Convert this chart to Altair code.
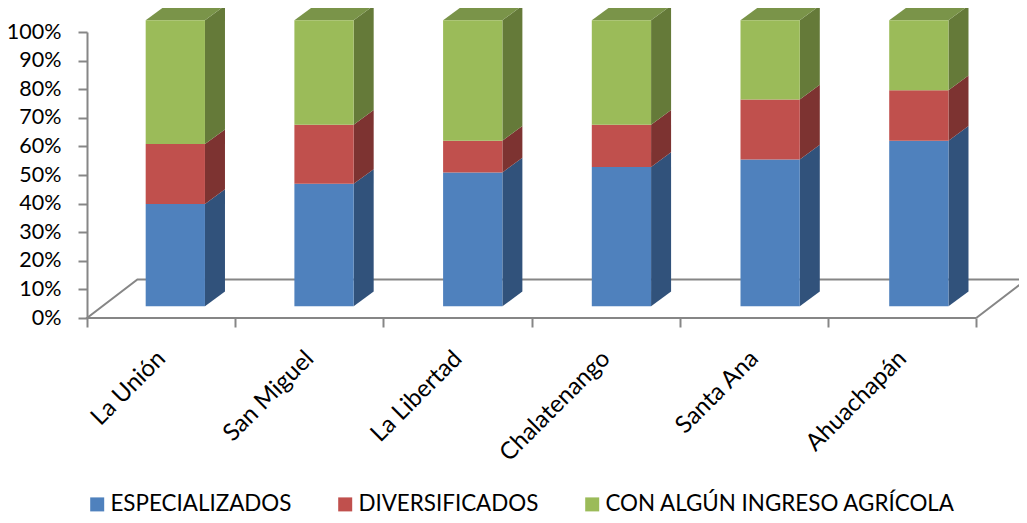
import altair as alt
import pandas as pd

departamentos = ["La Unión", "San Miguel", "La Libertad", "Chalatenango", "Santa Ana", "Ahuachapán"]
especializados = [35.8, 42.8, 46.8, 48.7, 51.3, 57.9]
diversificados = [20.9, 20.7, 11.1, 14.8, 21.0, 17.6]
con_ingreso = [43.3, 36.5, 42.1, 36.5, 27.7, 24.5]
series = ["ESPECIALIZADOS", "DIVERSIFICADOS", "CON ALGÚN INGRESO AGRÍCOLA"]
front_colors = ["#4F81BD", "#C0504D", "#9BBB59"]
side_colors = ["#31527B", "#7D3331", "#657A39"]
top_colors = ["#7A9449"]
y_ticks = list(range(0, 101, 10))

# 3-D projection of the chart, in data units
BAR_LEFT, BAR_STEP, BAR_W, DEPTH_X, DEPTH_Y, LIFT = 0.396, 1.0034, 0.40, 0.135, 5.15, 4.1
FLOOR_X, FLOOR_Y = 0.34, 13.5
n = len(departamentos)

front, side, top = [], [], []
for i in range(n):
    base = LIFT
    x0, x1 = i * BAR_STEP + BAR_LEFT, i * BAR_STEP + BAR_LEFT + BAR_W
    for name, vals, in zip(series, [especializados, diversificados, con_ingreso]):
        lo, hi = base, base + vals[i]
        base = hi
        front.append(dict(x=x0, x2=x1, y=lo, y2=hi, s=name))
        side.append(dict(k=f"{i}{name}", s=name + " lado", x=x1, y=lo, y2=hi))
        side.append(dict(k=f"{i}{name}", s=name + " lado", x=x1 + DEPTH_X, y=lo + DEPTH_Y, y2=hi + DEPTH_Y))
    t = base
    for px, a, b in [(x0, t, t), (x0 + DEPTH_X, t, t + DEPTH_Y), (x1, t, t + DEPTH_Y), (x1 + DEPTH_X, t + DEPTH_Y, t + DEPTH_Y)]:
        top.append(dict(k=str(i), s="techo", x=px, y=a, y2=b))

floor = pd.DataFrame(
    [dict(o=0, x=n, y=0), dict(o=1, x=0, y=0), dict(o=2, x=FLOOR_X, y=FLOOR_Y),
     dict(o=3, x=n + FLOOR_X, y=FLOOR_Y), dict(o=4, x=n, y=0)]
)
labels = pd.DataFrame(dict(x=[i + 0.505 for i in range(n)], y=[-13.0] * n, t=departamentos))

xs = alt.Scale(domain=[0, 932 / 148.2], nice=False, zero=False)
ys = alt.Scale(domain=[0, 100], nice=False)
cs = alt.Scale(
    domain=series + [s + " lado" for s in series] + ["techo"],
    range=front_colors + side_colors + top_colors,
)
X = alt.X("x:Q", scale=xs, title=None,
          axis=alt.Axis(values=list(range(n + 1)), labels=False, domain=False, grid=False,
                        tickColor="#868686", tickWidth=2, tickSize=9))
Y = alt.Y("y:Q", scale=ys, title=None, stack=None,
          axis=alt.Axis(values=y_ticks, labelExpr="datum.value + '%'", grid=False,
                        domainColor="#868686", domainWidth=2, tickColor="#868686", tickWidth=2,
                        tickSize=9, labelPadding=17, labelFont="Lato", labelFontSize=21.5,
                        labelColor="#000000"))
C = alt.Color("s:N", scale=cs, title=None, legend=alt.Legend(
    values=series, orient="none", legendX=-1, legendY=461, direction="horizontal", columns=3,
    symbolType="square", symbolSize=196, symbolStrokeWidth=0, labelFont="Lato", labelFontSize=22.4,
    labelColor="#000000", labelOffset=2, columnPadding=42, labelLimit=500, padding=0))

floor_l = alt.Chart(floor).mark_line(color="#868686", strokeWidth=2).encode(x=X, y=Y, order="o:Q")
side_l = alt.Chart(pd.DataFrame(side)).mark_area(opacity=1).encode(
    x=X, y=Y, y2="y2:Q", detail="k:N", color=C)
top_l = alt.Chart(pd.DataFrame(top)).mark_area(opacity=1).encode(
    x=X, y=Y, y2="y2:Q", detail="k:N", color=C)
front_l = alt.Chart(pd.DataFrame(front)).mark_rect().encode(
    x=X, x2="x2:Q", y=Y, y2="y2:Q", color=C)
text_l = alt.Chart(labels).mark_text(angle=315, align="right", baseline="middle", font="Lato",
                                     fontSize=24, color="#000000").encode(
    x=X, y=Y, text="t:N")

chart = alt.layer(floor_l, side_l, top_l, front_l, text_l).properties(
    width=932, height=286,
    autosize=alt.AutoSizeParams(type="none"),
    padding={"left": 79, "top": 24, "right": 0, "bottom": 197},
).configure_view(stroke=None)

chart.save("out.html", embed_options={"renderer": "svg", "actions": False})
